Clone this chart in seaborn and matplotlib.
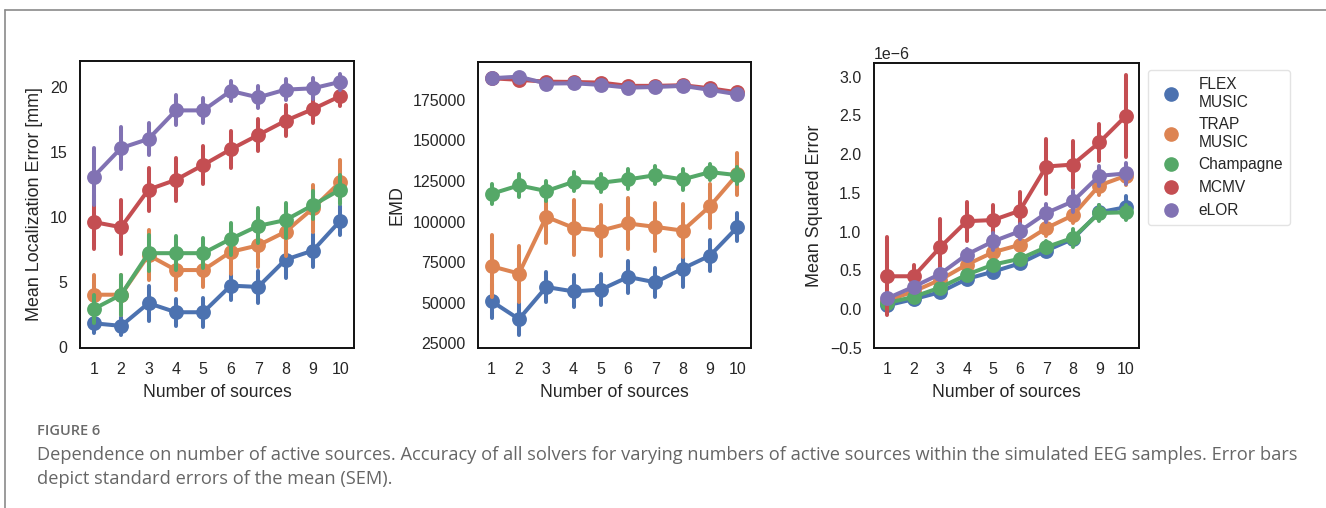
import numpy as np
import pandas as pd
import matplotlib
matplotlib.use("Agg")
import matplotlib.pyplot as plt
from matplotlib.lines import Line2D
from matplotlib.ticker import MultipleLocator
import seaborn as sns

# ---------------- data ----------------
n_sources = [1, 2, 3, 4, 5, 6, 7, 8, 9, 10]
methods = ["FLEX\nMUSIC", "TRAP\nMUSIC", "Champagne", "MCMV", "eLOR"]

# Panel 1: Mean localization error [mm]  (mean, SEM)
mle_flex = [1.8, 1.6, 3.35, 2.65, 2.65, 4.7, 4.6, 6.7, 7.4, 9.7]
mle_flex_sem = [0.75, 0.7, 1.35, 1.05, 1.1, 1.1, 1.2, 1.4, 1.3, 1.1]
mle_trap = [4.0, 4.0, 7.05, 5.9, 5.9, 7.3, 7.8, 8.85, 10.65, 12.7]
mle_trap_sem = [1.5, 1.55, 1.95, 1.55, 1.3, 1.7, 1.65, 1.9, 1.8, 1.65]
mle_champ = [2.9, 4.0, 7.2, 7.2, 7.2, 8.3, 9.3, 9.75, 10.9, 12.1]
mle_champ_sem = [1.1, 1.55, 1.4, 1.3, 1.15, 1.25, 1.35, 1.35, 1.1, 1.1]
mle_mcmv = [9.6, 9.2, 12.1, 12.85, 14.0, 15.2, 16.3, 17.4, 18.3, 19.3]
mle_mcmv_sem = [2.1, 2.1, 1.65, 1.65, 1.45, 1.4, 1.25, 1.2, 1.1, 0.8]
mle_elor = [13.1, 15.3, 16.0, 18.2, 18.2, 19.7, 19.2, 19.8, 19.9, 20.4]
mle_elor_sem = [2.2, 1.65, 1.2, 1.15, 0.95, 0.8, 0.85, 0.8, 0.8, 0.6]

# Panel 2: EMD
emd_flex = [50800, 39800, 59600, 56900, 58000, 65800, 62500, 71000, 79000, 96500]
emd_flex_sem = [10600, 9800, 9300, 9900, 9600, 9800, 9000, 11500, 9400, 8500]
emd_trap = [72400, 67900, 102900, 96100, 94400, 98800, 96700, 94400, 109500, 129100]
emd_trap_sem = [19000, 17300, 16000, 17000, 15500, 15700, 14600, 16500, 13400, 12900]
emd_champ = [117100, 122300, 118800, 124500, 123900, 126000, 128600, 126000, 130500, 128600]
emd_champ_sem = [6100, 7200, 6000, 5900, 5400, 6200, 5700, 6400, 4900, 5200]
emd_mcmv = [188400, 187400, 186300, 186100, 185700, 183700, 183700, 184100, 182200, 179700]
emd_mcmv_sem = [1000, 1000, 1000, 1000, 1000, 1000, 1000, 1000, 1000, 1000]
emd_elor = [188400, 189400, 185100, 185300, 184300, 182600, 183000, 183700, 181200, 178500]
emd_elor_sem = [1000, 1000, 1000, 1000, 1000, 1000, 1000, 1000, 1000, 1000]

# Panel 3: Mean squared error (x 1e-6)
mse_flex = [0.05, 0.13, 0.22, 0.39, 0.485, 0.59, 0.755, 0.905, 1.25, 1.315]
mse_flex_sem = [0.02, 0.02, 0.03, 0.04, 0.05, 0.05, 0.06, 0.08, 0.1, 0.15]
mse_trap = [0.11, 0.23, 0.38, 0.575, 0.735, 0.83, 1.045, 1.21, 1.595, 1.72]
mse_trap_sem = [0.03, 0.04, 0.05, 0.06, 0.07, 0.08, 0.1, 0.1, 0.12, 0.12]
mse_champ = [0.08, 0.16, 0.28, 0.445, 0.575, 0.65, 0.80, 0.92, 1.24, 1.25]
mse_champ_sem = [0.02, 0.03, 0.04, 0.05, 0.06, 0.06, 0.08, 0.12, 0.1, 0.1]
mse_mcmv = [0.425, 0.425, 0.80, 1.135, 1.15, 1.27, 1.84, 1.865, 2.15, 2.49]
mse_mcmv_sem = [0.5, 0.14, 0.365, 0.25, 0.19, 0.24, 0.36, 0.30, 0.235, 0.53]
mse_elor = [0.14, 0.29, 0.455, 0.705, 0.875, 1.005, 1.24, 1.39, 1.72, 1.75]
mse_elor_sem = [0.04, 0.05, 0.06, 0.07, 0.11, 0.1, 0.12, 0.14, 0.13, 0.13]
mse_scale = 1e-6

y_labels = ["Mean Localization Error [mm]", "EMD", "Mean Squared Error"]
x_label = "Number of sources"
caption_title = "FIGURE 6"
caption_text = ("Dependence on number of active sources. Accuracy of all solvers for varying numbers of active "
                "sources within the simulated EEG samples. Error bars\ndepict standard errors of the mean (SEM).")


def build_frame(means, sems, scale=1.0):
    rows = []
    for meth, m_arr, s_arr in zip(methods, means, sems):
        for n, m, s in zip(n_sources, m_arr, s_arr):
            for v in (m - s, m, m + s):
                rows.append({"n": n, "method": meth, "value": v * scale})
    return pd.DataFrame(rows)


frames = [
    build_frame([mle_flex, mle_trap, mle_champ, mle_mcmv, mle_elor],
                [mle_flex_sem, mle_trap_sem, mle_champ_sem, mle_mcmv_sem, mle_elor_sem]),
    build_frame([emd_flex, emd_trap, emd_champ, emd_mcmv, emd_elor],
                [emd_flex_sem, emd_trap_sem, emd_champ_sem, emd_mcmv_sem, emd_elor_sem]),
    build_frame([mse_flex, mse_trap, mse_champ, mse_mcmv, mse_elor],
                [mse_flex_sem, mse_trap_sem, mse_champ_sem, mse_mcmv_sem, mse_elor_sem], mse_scale),
]

# ---------------- style ----------------
sns.set_theme(style="white", palette="deep")
plt.rcParams["font.family"] = ["Liberation Sans", "DejaVu Sans"]
plt.rcParams["axes.edgecolor"] = "#111111"
plt.rcParams["axes.linewidth"] = 1.4
palette = sns.color_palette("deep", 5)

W, H = 1326, 508
fig = plt.figure(figsize=(W / 100, H / 100), dpi=100)

boxes = [(80, 354, 61, 348), (478, 751, 62, 348), (874, 1139, 63, 348)]
ylabelpads = [5, 5, 5]
axes = []
for (l, r, t, b) in boxes:
    axes.append(fig.add_axes([l / W, (H - b) / H, (r - l) / W, (b - t) / H]))

for ax, df, ylab, lp in zip(axes, frames, y_labels, ylabelpads):
    sns.pointplot(data=df, x="n", y="value", hue="method", hue_order=methods,
                  palette=palette, estimator="mean", errorbar=("pi", 100),
                  markers="o", linestyles="-", dodge=False, legend=False, ax=ax,
                  markersize=8.5, linewidth=2.9, err_kws={"linewidth": 2.9})
    ax.set_xlabel(x_label, fontsize=12.7, labelpad=5)
    ax.set_ylabel(ylab, fontsize=12.9, labelpad=lp)
    ax.tick_params(axis="x", labelsize=11.5, length=0, pad=10)
    ax.tick_params(axis="y", labelsize=11.5, length=0, pad=9)
    for sp in ax.spines.values():
        sp.set_color("#111111")
        sp.set_linewidth(1.4)

axes[0].yaxis.set_major_locator(MultipleLocator(5))
axes[1].yaxis.set_major_locator(MultipleLocator(25000))
axes[2].set_ylim(bottom=-0.5e-6)
axes[2].yaxis.set_major_locator(MultipleLocator(0.5e-6))
axes[2].yaxis.get_offset_text().set_fontsize(11.5)

handles = [Line2D([0], [0], marker="o", linestyle="", color=c, markersize=9.5) for c in palette]
axes[2].legend(handles, methods, loc="upper left", bbox_to_anchor=(1.034, 0.975),
               fontsize=11.2, frameon=True, edgecolor="#dddddd", labelspacing=0.5,
               borderaxespad=0, borderpad=0.45)

# ---------------- frame and caption ----------------
fig.add_artist(Line2D([4.5 / W, 4.5 / W], [0, (H - 10) / H], color="#8a8a8a", linewidth=1.2))
fig.add_artist(Line2D([4.5 / W, 1.0], [(H - 10) / H, (H - 10) / H], color="#8a8a8a", linewidth=1.2))

fig.text(37 / W, (H - 431) / H, caption_title, fontsize=10.5, fontweight="semibold",
         color="#6a6a6a", family=["Open Sans", "DejaVu Sans"], va="center")
fig.text(37 / W, (H - 446) / H, caption_text, fontsize=13.15, color="#666666",
         family=["Open Sans", "DejaVu Sans"], va="top", linespacing=1.42)

fig.savefig("out.png", dpi=100)
